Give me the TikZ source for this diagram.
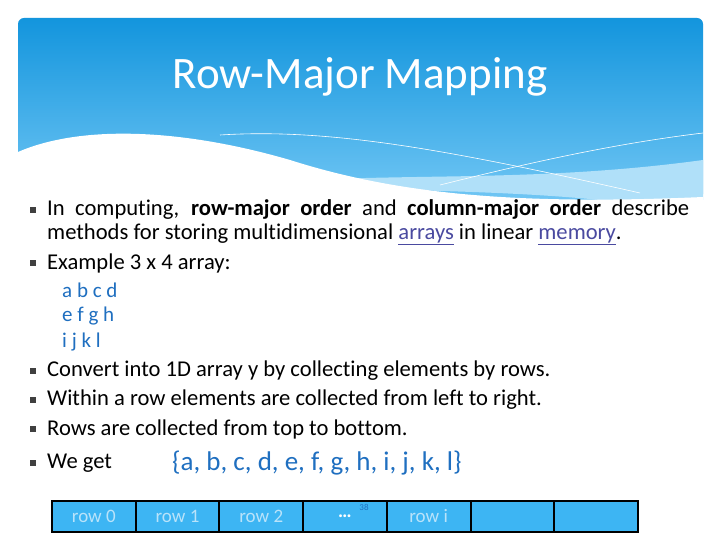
\documentclass[tikz,border=0pt]{standalone}
\usepackage{fontspec}
\setmainfont[Ligatures=NoCommon]{Carlito}
\usetikzlibrary{shadings}
\definecolor{topb}{HTML}{1395DD}
\definecolor{botb}{HTML}{70C6F4}
\definecolor{setb}{HTML}{1F6FC0}
\definecolor{cellb}{HTML}{3DB5F3}
\definecolor{celltxt}{HTML}{B9E3FA}
\definecolor{linkc}{HTML}{4A4AA0}
\tikzset{
 body/.style={anchor=west,inner sep=0,font=\fontsize{22.6}{26}\selectfont},
 mat/.style={anchor=west,inner sep=0,font=\fontsize{21}{24}\selectfont,color=setb},
 bul/.style={fill=black!75,minimum size=6pt,inner sep=0},
 cell/.style={draw=black,line width=2pt,fill=cellb,minimum width=83.7pt,minimum height=31pt,inner sep=0,text=celltxt,font=\fontsize{19}{20}\selectfont,anchor=north west}
}
\newcommand{\lnk}[1]{\textcolor{linkc}{\underline{#1}}}
\begin{document}
\begin{tikzpicture}[x=1pt,y=-1pt]
\useasboundingbox (0,0) rectangle (720,540);
\fill[white] (0,0) rectangle (720,540);
\shade[top color=topb,bottom color=botb,rounded corners=6pt] (18,18) rectangle (703,200);
\fill[white!45!botb] (230,186) .. controls (380,170) and (520,185) .. (703,160) -- (703,200) -- (600,200) .. controls (500,190) and (380,190) .. (230,186) -- cycle;
\fill[white] (18,152) .. controls (80,125) and (180,128) .. (290,160) .. controls (400,195) and (520,205) .. (703,197) -- (703,205) -- (18,205) -- cycle;
\draw[white,line width=0.6pt] (220,135) .. controls (330,128) and (450,150) .. (640,193);
\draw[white,line width=0.6pt] (440,185) .. controls (540,160) and (620,143) .. (703,133);
\node[text=white,font=\fontsize{45}{48}\selectfont] (title) at (360,77) {Row-Major Mapping};
\node[bul] (b1) at (33,210) {};
\node[body] (t1) at (47,210) {\makebox[642pt][s]{In computing, \textbf{row-major order} and \textbf{column-major order} describe}};
\node[body] (t1b) at (47,234) {methods for storing multidimensional \lnk{arrays} in linear \lnk{memory}.};
\node[bul] (b2) at (33,263) {};
\node[body] (t2) at (47,263) {Example 3 x 4 array:};
\node[mat] (m1) at (62,290) {a b c d};
\node[mat] (m2) at (62,316) {e f g h};
\node[mat] (m3) at (62,342) {i j k l};
\node[bul] (b3) at (33,371) {};
\node[body] (t3) at (47,371) {Convert into 1D array y by collecting elements by rows.};
\node[bul] (b4) at (33,400) {};
\node[body] (t4) at (47,400) {Within a row elements are collected from left to right.};
\node[bul] (b5) at (33,429) {};
\node[body] (t5) at (47,429) {Rows are collected from top to bottom.};
\node[bul] (b6) at (33,463) {};
\node[body] (t6) at (47,463) {We get};
\node[anchor=west,inner sep=0,text=setb,font=\fontsize{27}{30}\selectfont] (set) at (172,463) {\{a, b, c, d, e, f, g, h, i, j, k, l\}};
\node[cell] (c0) at (51,500) {row 0};
\node[cell] (c1) at (134.7,500) {row 1};
\node[cell] (c2) at (218.4,500) {row 2};
\node[cell,text=white] (c3) at (302.1,500) {\textbf{…}};
\node[cell] (c4) at (385.8,500) {row i};
\node[cell] (c5) at (469.5,500) {};
\node[cell] (c6) at (553.2,500) {};
\node[text=setb,font=\fontsize{9}{10}\selectfont,inner sep=0] (pg) at (364,507) {38};
\end{tikzpicture}
\end{document}
